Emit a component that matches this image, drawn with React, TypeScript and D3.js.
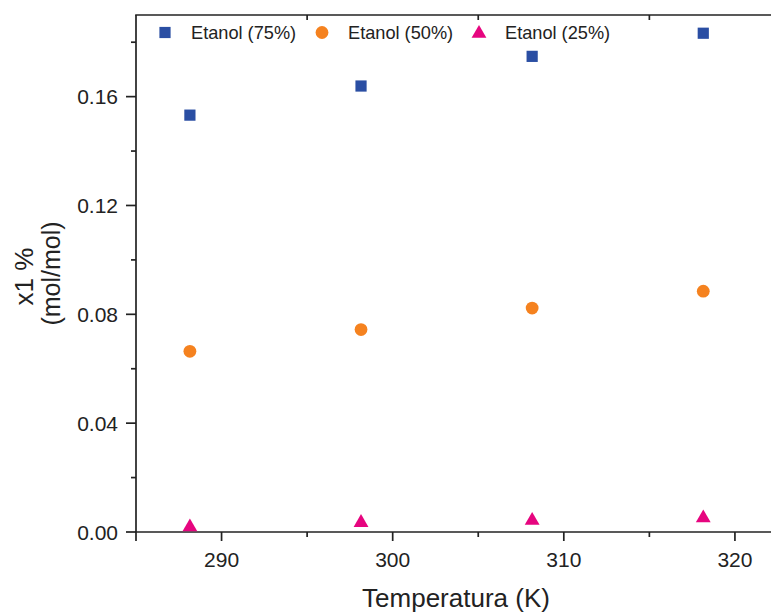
import React from "react";
import * as d3 from "d3";

// Temperatures (K) at which solubility was measured
const temperatures = [288.15, 298.15, 308.15, 318.15];

// Mole fraction of solute for each ethanol proportion
const etanol75 = [0.1532, 0.1639, 0.1748, 0.1833];
const etanol50 = [0.0664, 0.0744, 0.0823, 0.0885];
const etanol25 = [0.0022, 0.0038, 0.0046, 0.0055];

const seriesNames = ["Etanol (75%)", "Etanol (50%)", "Etanol (25%)"];

const xMajorTicks = [290, 300, 310, 320];
const xMinorTicks = [295, 305, 315];
const yMajorTicks = [0, 0.04, 0.08, 0.12, 0.16];
const yMinorTicks = [0.02, 0.06, 0.1, 0.14, 0.18];

const W = 771;
const H = 615;
const margin = { left: 136, top: 15, right: -5, bottom: 83 };

const FONT = "'Liberation Sans', Arial, Helvetica, sans-serif";
const BLUE = "#2a4ea3";
const ORANGE = "#f5821f";
const MAGENTA = "#e6057f";
const AXIS = "#222";

type Shape = "square" | "circle" | "triangle";

function Marker({ shape, x, y, color }: { shape: Shape; x: number; y: number; color: string }) {
  if (shape === "square") {
    return <rect x={x - 5.6} y={y - 5.6} width={11.2} height={11.2} fill={color} />;
  }
  if (shape === "circle") {
    return <circle cx={x} cy={y} r={6.4} fill={color} />;
  }
  const tri = d3.symbol(d3.symbolTriangle, 95)();
  return <path d={tri as string} transform={`translate(${x},${y + 1})`} fill={color} />;
}

export default function App() {
  const x = d3
    .scaleLinear()
    .domain([285, 322.4])
    .range([margin.left, W - margin.right]);
  const y = d3
    .scaleLinear()
    .domain([0, 0.19])
    .range([H - margin.bottom, margin.top]);

  const x0 = x.range()[0];
  const x1 = x.range()[1];
  const y0 = y.range()[0];
  const y1 = y.range()[1];

  const series: { values: number[]; shape: Shape; color: string }[] = [
    { values: etanol75, shape: "square", color: BLUE },
    { values: etanol50, shape: "circle", color: ORANGE },
    { values: etanol25, shape: "triangle", color: MAGENTA },
  ];

  const legendX = [165, 322, 479];
  const legendY = 32.5;

  return (
    <svg
      width={W}
      height={H}
      style={{ position: "absolute", left: 0, top: 0, background: "#fff" }}
      fontFamily={FONT}
    >
      <rect width={W} height={H} fill="#fff" />

      {/* frame lines */}
      <line x1={x0} x2={x0} y1={y1} y2={y0} stroke={AXIS} strokeWidth={1.7} />
      <line x1={x0 - 1} x2={x1} y1={y0} y2={y0} stroke={AXIS} strokeWidth={1.7} />
      <line x1={x0 - 0.8} x2={x1} y1={y1} y2={y1} stroke={AXIS} strokeWidth={1.7} />

      {/* bottom axis */}
      {xMajorTicks.map((t) => (
        <g key={`xm${t}`}>
          <line x1={x(t)} x2={x(t)} y1={y0} y2={y0 + 9} stroke={AXIS} strokeWidth={1.7} />
          <text x={x(t)} y={567} textAnchor="middle" fontSize={21} fill={AXIS}>
            {t}
          </text>
        </g>
      ))}
      {xMinorTicks.map((t) => (
        <g key={`xn${t}`}>
          <line x1={x(t)} x2={x(t)} y1={y0} y2={y0 + 5} stroke={AXIS} strokeWidth={1.7} />
          <line x1={x(t)} x2={x(t)} y1={y1} y2={y1 + 5} stroke={AXIS} strokeWidth={1.7} />
        </g>
      ))}
      <line x1={x0} x2={x0} y1={y0} y2={y0 + 9} stroke={AXIS} strokeWidth={1.7} />

      {/* left axis */}
      {yMajorTicks.map((t) => (
        <g key={`ym${t}`}>
          <line x1={x0 - 10} x2={x0} y1={y(t)} y2={y(t)} stroke={AXIS} strokeWidth={1.7} />
          <text
            x={x0 - 18}
            y={y(t)}
            dy="0.36em"
            textAnchor="end"
            fontSize={21}
            fill={AXIS}
          >
            {d3.format(".2f")(t)}
          </text>
        </g>
      ))}
      {yMinorTicks.map((t) => (
        <line key={`yn${t}`} x1={x0 - 5} x2={x0} y1={y(t)} y2={y(t)} stroke={AXIS} strokeWidth={1.7} />
      ))}

      {/* axis titles */}
      <text x={456} y={607} textAnchor="middle" fontSize={26} fill={AXIS}>
        Temperatura (K)
      </text>
      <g transform={`translate(33, ${(y0 + y1) / 2 + 3}) rotate(-90)`}>
        <text textAnchor="middle" fontSize={26} fill={AXIS}>
          x1 %
        </text>
      </g>
      <g transform={`translate(60, ${(y0 + y1) / 2}) rotate(-90)`}>
        <text textAnchor="middle" fontSize={25} fill={AXIS}>
          (mol/mol)
        </text>
      </g>

      {/* data */}
      {series.map((s, si) =>
        s.values.map((v, i) => (
          <Marker
            key={`p${si}-${i}`}
            shape={s.shape}
            x={x(temperatures[i])}
            y={y(v)}
            color={s.color}
          />
        ))
      )}

      {/* legend */}
      {series.map((s, si) => (
        <g key={`lg${si}`}>
          <Marker shape={s.shape} x={legendX[si]} y={legendY} color={s.color} />
          <text x={legendX[si] + 26} y={legendY + 6.5} fontSize={18.2} fill={AXIS}>
            {seriesNames[si]}
          </text>
        </g>
      ))}
    </svg>
  );
}
